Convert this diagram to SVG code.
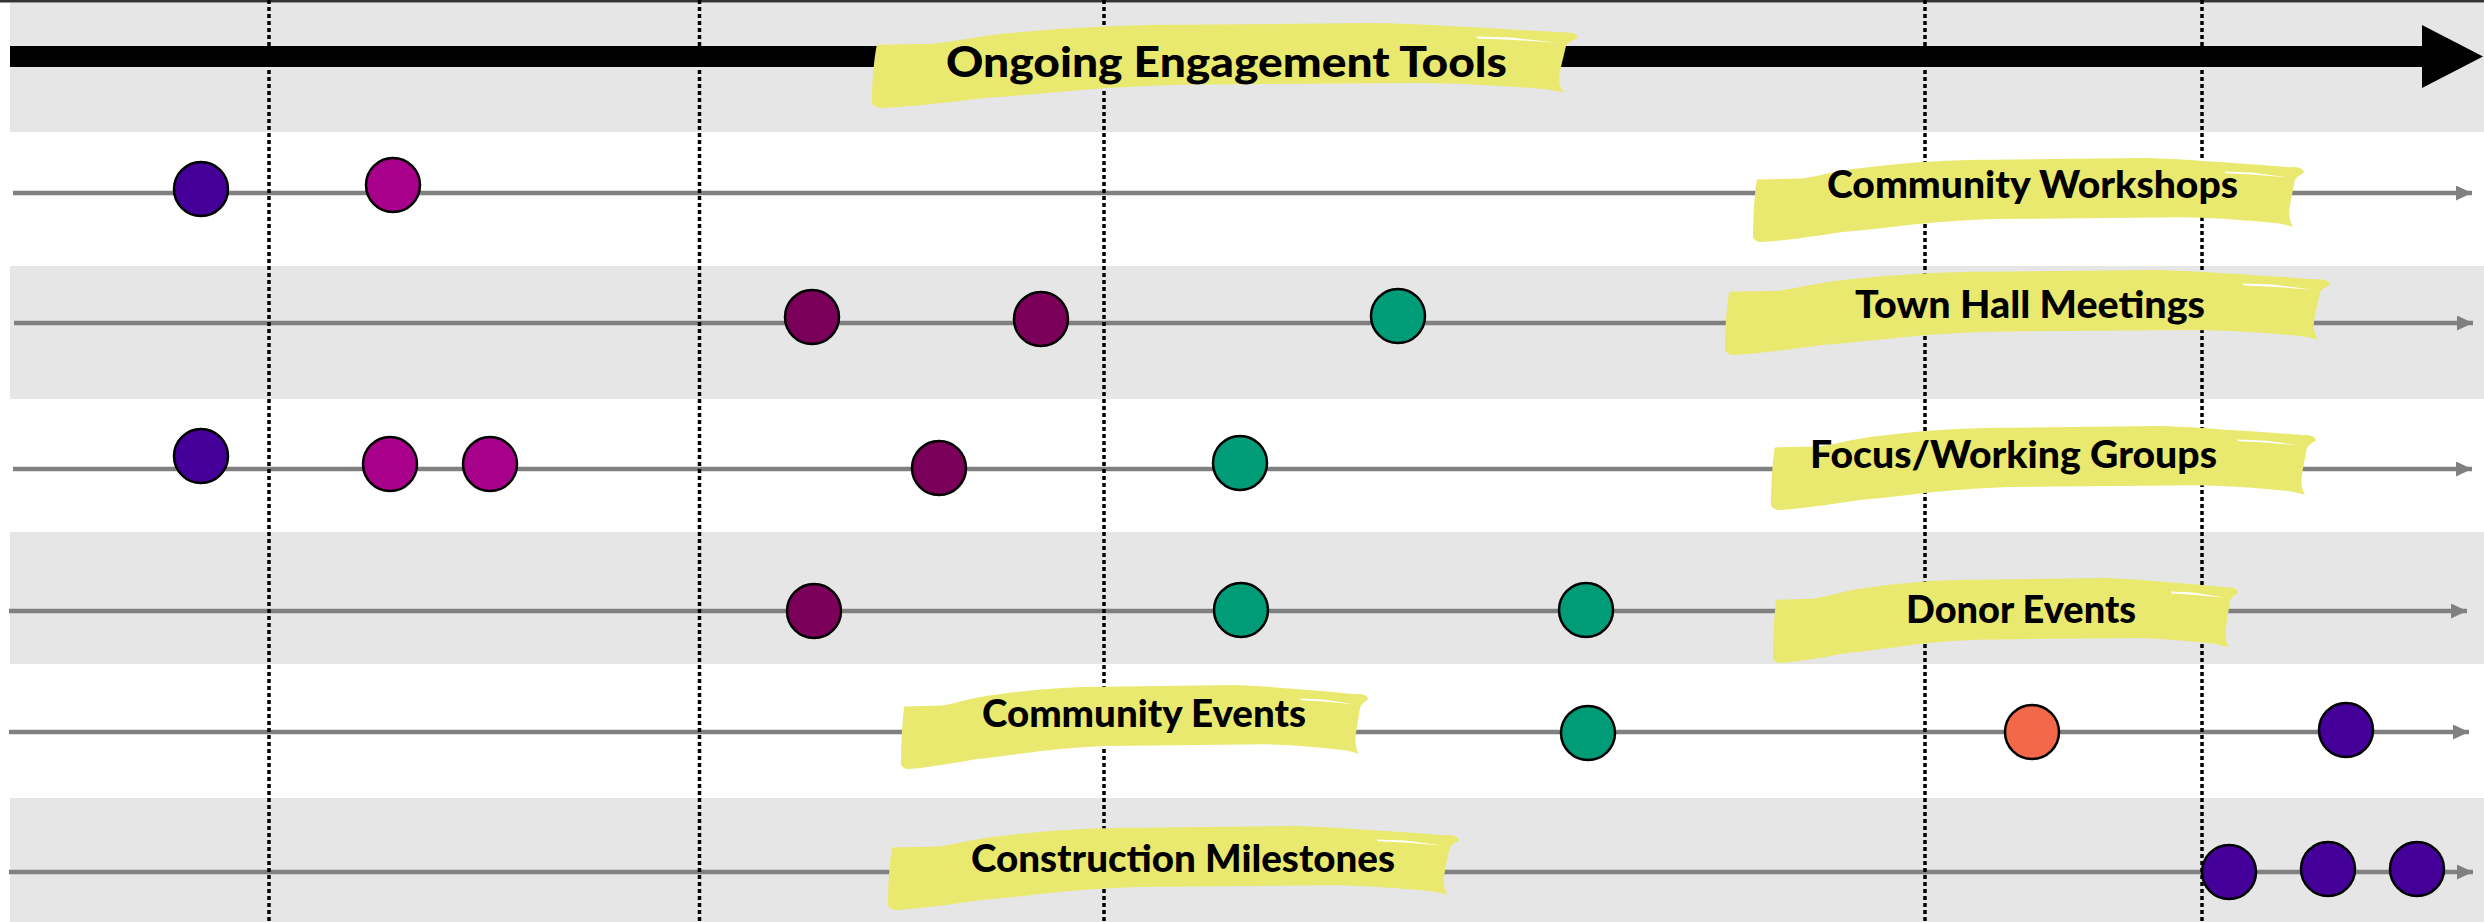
<svg xmlns="http://www.w3.org/2000/svg" width="2484" height="922" viewBox="0 0 2484 922">
  <style>
    .band { fill: #e6e6e6; }
    .axis { stroke: #808080; stroke-width: 4.5; fill: none; marker-end: url(#arr); }
    .dot { stroke: #000; stroke-width: 3.5; stroke-dasharray: 4 3; fill: none; }
    .brush { fill: #e9e96f; }
    .streak { fill: #ffffff; }
    .lbl { font-family: Lato, "Liberation Sans", sans-serif; font-weight: 900; font-size: 37.5px; fill: #000; }
    .title { font-size: 42px; }
    .ev { stroke: #000; stroke-width: 2.5; }
    .c-blue { fill: #440099; }
    .c-mag { fill: #a8008a; }
    .c-mar { fill: #7a0059; }
    .c-teal { fill: #009b77; }
    .c-org { fill: #f26849; }
  </style>
  <defs>
    <marker id="arr" markerUnits="userSpaceOnUse" markerWidth="17" markerHeight="16" refX="16" refY="7.5" orient="auto">
      <path d="M0,0 L16,7.5 L0,15 Z" fill="#808080"/>
    </marker>
    <path id="brushShape" d="M7 25.5 L88 24.4 C130 20 160 14 198 11.8 C280 5 360 2 438 2 L712 0 C760 1 790 2 815 3.5 C880 6 940 9 975 11 C990 10 1000 13 1000 17.6 C992 20 984 24 983 27 C978 45 973 60 973 66 C974 74 977 79 980 82 C965 79 955 78 951 77.6 C880 73 820 71 780 70.6 L438 72.6 C380 74 340 76 300 78.5 C240 83 200 86 164 88 C100 94 50 99 13 100 C5 99 0 96 0 94 C0 70 3 40 7 25.5 Z"/>
    <path id="streakShape" d="M855 16 L905 17.2 L972 23.2 L905 19.6 L858 18.2 Z"/>
  </defs>

  <rect x="0" y="0" width="2484" height="922" fill="#ffffff"/>

  <g id="bands">
    <rect class="band" x="10" y="3" width="2474" height="129"/>
    <rect class="band" x="10" y="266" width="2474" height="133"/>
    <rect class="band" x="10" y="532" width="2474" height="132"/>
    <rect class="band" x="10" y="798" width="2474" height="124"/>
  </g>
  <rect x="0" y="0" width="2484" height="2.5" fill="#333"/>

  <g id="connectors">
    <line class="axis" x1="13" y1="193" x2="2472" y2="193"/>
    <line class="axis" x1="14" y1="323" x2="2473" y2="323"/>
    <line class="axis" x1="13" y1="469" x2="2472" y2="469"/>
    <line class="axis" x1="9" y1="611" x2="2467" y2="611"/>
    <line class="axis" x1="9" y1="732" x2="2469" y2="732"/>
    <line class="axis" x1="9" y1="872" x2="2473" y2="872"/>
  </g>

  <g id="dividers">
    <line class="dot" x1="269" y1="0" x2="269" y2="922"/>
    <line class="dot" x1="699.5" y1="0" x2="699.5" y2="922"/>
    <line class="dot" x1="1104" y1="0" x2="1104" y2="922"/>
    <line class="dot" x1="1925" y1="0" x2="1925" y2="922"/>
    <line class="dot" x1="2202" y1="0" x2="2202" y2="922"/>
  </g>

  <g id="main-arrow">
    <rect x="10" y="46" width="2413" height="21" fill="#000"/>
    <polygon points="2422,25 2483,56.5 2422,88" fill="#000"/>
  </g>

  <g id="label-ongoing">
    <use href="#brushShape" class="brush" transform="translate(872,23) scale(0.706,0.85)"/>
    <use href="#streakShape" class="streak" transform="translate(872,23) scale(0.706,0.85)"/>
    <text class="lbl title" x="946" y="77" textLength="561" lengthAdjust="spacingAndGlyphs">Ongoing Engagement Tools</text>
  </g>

  <g id="label-workshops">
    <use href="#brushShape" class="brush" transform="translate(1753,158) scale(0.551,0.84)"/>
    <use href="#streakShape" class="streak" transform="translate(1753,158) scale(0.551,0.84)"/>
    <text class="lbl" x="1827" y="198" textLength="411" lengthAdjust="spacingAndGlyphs">Community Workshops</text>
  </g>

  <g id="label-townhall">
    <use href="#brushShape" class="brush" transform="translate(1725,270) scale(0.605,0.85)"/>
    <use href="#streakShape" class="streak" transform="translate(1725,270) scale(0.605,0.85)"/>
    <text class="lbl" x="1855" y="318" textLength="350" lengthAdjust="spacingAndGlyphs">Town Hall Meetings</text>
  </g>

  <g id="label-focus">
    <use href="#brushShape" class="brush" transform="translate(1771,426) scale(0.545,0.84)"/>
    <use href="#streakShape" class="streak" transform="translate(1771,426) scale(0.545,0.84)"/>
    <text class="lbl" x="1810" y="468" textLength="407" lengthAdjust="spacingAndGlyphs">Focus/Working Groups</text>
  </g>

  <g id="label-donor">
    <use href="#brushShape" class="brush" transform="translate(1773,578) scale(0.465,0.85)"/>
    <use href="#streakShape" class="streak" transform="translate(1773,578) scale(0.465,0.85)"/>
    <text class="lbl" x="1906" y="623" textLength="230" lengthAdjust="spacingAndGlyphs">Donor Events</text>
  </g>

  <g id="label-community-events">
    <use href="#brushShape" class="brush" transform="translate(901,685) scale(0.467,0.84)"/>
    <use href="#streakShape" class="streak" transform="translate(901,685) scale(0.467,0.84)"/>
    <text class="lbl" x="982" y="727" textLength="324" lengthAdjust="spacingAndGlyphs">Community Events</text>
  </g>

  <g id="label-construction">
    <use href="#brushShape" class="brush" transform="translate(888,826) scale(0.571,0.84)"/>
    <use href="#streakShape" class="streak" transform="translate(888,826) scale(0.571,0.84)"/>
    <text class="lbl" x="971" y="872" textLength="424" lengthAdjust="spacingAndGlyphs">Construction Milestones</text>
  </g>

  <g id="events-workshops">
    <circle id="ev-w1" class="ev c-blue" cx="201" cy="189" r="27"/>
    <circle id="ev-w2" class="ev c-mag" cx="393" cy="185" r="27"/>
  </g>
  <g id="events-townhall">
    <circle id="ev-t1" class="ev c-mar" cx="812" cy="317" r="27"/>
    <circle id="ev-t2" class="ev c-mar" cx="1041" cy="319" r="27"/>
    <circle id="ev-t3" class="ev c-teal" cx="1398" cy="316" r="27"/>
  </g>
  <g id="events-focus">
    <circle id="ev-f1" class="ev c-blue" cx="201" cy="456" r="27"/>
    <circle id="ev-f2" class="ev c-mag" cx="390" cy="464" r="27"/>
    <circle id="ev-f3" class="ev c-mag" cx="490" cy="464" r="27"/>
    <circle id="ev-f4" class="ev c-mar" cx="939" cy="468" r="27"/>
    <circle id="ev-f5" class="ev c-teal" cx="1240" cy="463" r="27"/>
  </g>
  <g id="events-donor">
    <circle id="ev-d1" class="ev c-mar" cx="814" cy="611" r="27"/>
    <circle id="ev-d2" class="ev c-teal" cx="1241" cy="610" r="27"/>
    <circle id="ev-d3" class="ev c-teal" cx="1586" cy="610" r="27"/>
  </g>
  <g id="events-community">
    <circle id="ev-c1" class="ev c-teal" cx="1588" cy="733" r="27"/>
    <circle id="ev-c2" class="ev c-org" cx="2032" cy="732" r="27"/>
    <circle id="ev-c3" class="ev c-blue" cx="2346" cy="730" r="27"/>
  </g>
  <g id="events-construction">
    <circle id="ev-m1" class="ev c-blue" cx="2229" cy="872" r="27"/>
    <circle id="ev-m2" class="ev c-blue" cx="2328" cy="869" r="27"/>
    <circle id="ev-m3" class="ev c-blue" cx="2417" cy="869" r="27"/>
  </g>
</svg>
